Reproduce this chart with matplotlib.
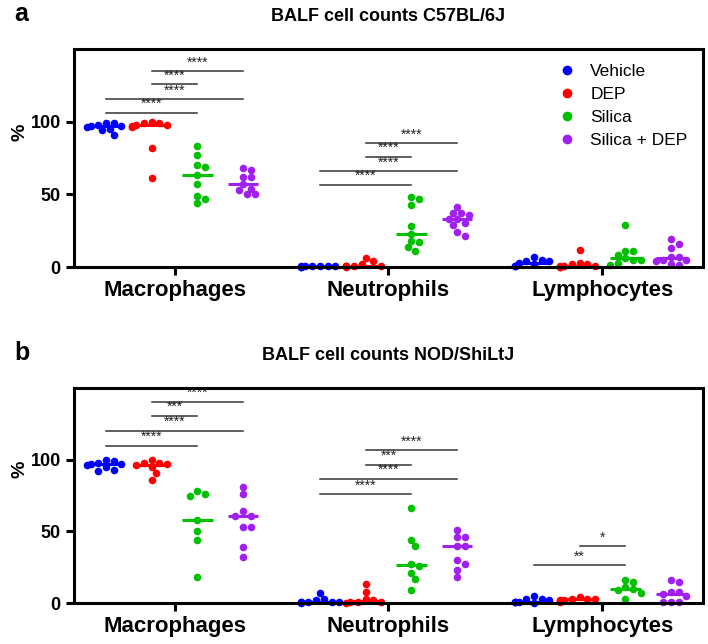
import numpy as np
import matplotlib
matplotlib.use('Agg')
import matplotlib.pyplot as plt
from matplotlib.lines import Line2D

plt.rcParams['font.family'] = ['Liberation Sans', 'DejaVu Sans']

cell_types = ['Macrophages', 'Neutrophils', 'Lymphocytes']
groups = ['Vehicle', 'DEP', 'Silica', 'Silica + DEP']
colors = ['#0000ff', '#ff0000', '#00c000', '#a020f0']

# ---- Panel a: C57BL/6J (values in %) ----
a_macrophages = [
    [99, 99, 98, 97, 97, 96, 95, 94, 91],
    [100, 99, 99, 98, 98, 97, 96, 82, 61],
    [83, 77, 70, 69, 63, 57, 49, 47, 44],
    [68, 67, 62, 62, 57, 54, 53, 50, 50],
]
a_neutrophils = [
    [1.0, 0.5, 0.5, 1.0, 0.3, 0.2, 0.8, 0.5],
    [6, 4, 2, 1, 1, 0.5, 0.5, 0.5, 0.3],
    [48, 47, 43, 28, 23, 18, 17, 14, 11],
    [41, 37, 37, 36, 33, 33, 30, 29, 24, 21],
]
a_lymphocytes = [
    [7, 5, 4, 4, 3, 2, 1, 0.5, 0.5],
    [12, 3, 2, 2, 1, 1, 0.5, 0.3, 0.3],
    [29, 11, 11, 8, 6, 5, 5, 3, 1.5],
    [19, 16, 13, 7, 7, 5, 5, 4, 2, 1.5],
]
# significance: (cell index, group i, group j, bracket height, label)
a_sig = [
    (0, 1, 3, 134.7, '****'), (0, 1, 2, 125.7, '****'),
    (0, 0, 3, 115.5, '****'), (0, 0, 2, 106.0, '****'),
    (1, 1, 3, 85.0, '****'), (1, 1, 2, 75.7, '****'),
    (1, 0, 3, 66.0, '****'), (1, 0, 2, 56.6, '****'),
]

# ---- Panel b: NOD/ShiLtJ ----
b_macrophages = [
    [100, 99, 98, 97, 97, 96, 95, 93, 92],
    [100, 98, 98, 97, 96, 95, 91, 86],
    [78, 76, 75, 58, 50, 44, 18],
    [81, 76, 64, 61, 61, 53, 53, 39, 32],
]
b_neutrophils = [
    [7, 3, 2, 1, 1, 0.5, 0.5, 0.5, 0.3],
    [13, 8, 3, 2, 1, 0.5, 0.5, 0.3],
    [66, 44, 40, 27, 26, 21, 17, 9],
    [51, 46, 46, 40, 40, 30, 27, 23, 18],
]
b_lymphocytes = [
    [5, 3, 3, 2, 1, 1, 0.5, 0.5, 0.3],
    [4, 3, 3, 3, 2, 2, 1.5, 1],
    [16, 15, 11, 10, 9, 7, 3],
    [16, 15, 8, 8, 6, 5, 1, 1, 1],
]
b_sig = [
    (0, 1, 3, 140.5, '****'), (0, 1, 2, 130.5, '***'),
    (0, 0, 3, 120.0, '****'), (0, 0, 2, 109.8, '****'),
    (1, 1, 3, 106.6, '****'), (1, 1, 2, 96.6, '***'),
    (1, 0, 3, 86.6, '****'), (1, 0, 2, 75.9, '****'),
    (2, 1, 2, 39.5, '*'), (2, 0, 2, 26.2, '**'),
]

titles = ['BALF cell counts C57BL/6J', 'BALF cell counts NOD/ShiLtJ']
letters = ['a', 'b']

W, H = 708, 644
fig = plt.figure(figsize=(W / 100, H / 100), dpi=100)

offsets = [-0.32, -0.107, 0.107, 0.32]
marker_px = 7.0


def swarm_offsets(vals, ax):
    # simple beeswarm in pixel space
    p0 = ax.transData.transform((0, 0))
    p1 = ax.transData.transform((1, 1))
    sx = p1[0] - p0[0]
    sy = p1[1] - p0[1]
    order = np.argsort(vals)[::-1]
    placed = []
    res = np.zeros(len(vals))
    d = marker_px
    for idx in order:
        y = vals[idx] * sy
        cands = [0]
        for m in range(1, 6):
            cands += [m * d * 0.55, -m * d * 0.55]
        for c in cands:
            ok = True
            for (px, py) in placed:
                if (px - c) ** 2 + (py - y) ** 2 < (d * 0.95) ** 2:
                    ok = False
                    break
            if ok:
                break
        placed.append((c, y))
        res[idx] = c / sx
    return res


def draw_panel(ax_rect, datasets, sig, title, letter, legend):
    ax = fig.add_axes(ax_rect)
    ax.set_xlim(-0.47, 2.47)
    ax.set_ylim(0, 150)
    for spine in ax.spines.values():
        spine.set_linewidth(2.2)
        spine.set_zorder(5)
    ax.set_yticks([0, 50, 100])
    ax.set_xticks([0, 1, 2])
    ax.set_xticklabels(cell_types, fontsize=16, fontweight='bold')
    ax.tick_params(axis='both', width=2.2, length=6, direction='out')
    ax.tick_params(axis='y', labelsize=13)
    for lab in ax.get_yticklabels():
        lab.set_fontweight('bold')
    ax.set_ylabel('%', fontsize=14, fontweight='bold')
    ax.yaxis.set_label_coords(-0.072, 0.62)
    fig.canvas.draw()
    for ci, ds in enumerate(datasets):
        for gi, vals in enumerate(ds):
            vals = np.asarray(vals, dtype=float)
            xc = ci + offsets[gi]
            xo = swarm_offsets(vals, ax)
            ax.scatter(xc + xo, vals, s=30, color=colors[gi], zorder=3,
                       linewidths=0, clip_on=False)
            med = np.median(vals)
            ax.plot([xc - 0.072, xc + 0.072], [med, med], color=colors[gi],
                    lw=2.2, zorder=4, solid_capstyle='butt')
    for (ci, g1, g2, yv, lab) in sig:
        x1 = ci + offsets[g1]
        x2 = ci + offsets[g2]
        ax.plot([x1, x2], [yv, yv], color='#333333', lw=1.1, zorder=2)
        ax.text((x1 + x2) / 2, yv + 1.2, lab, ha='center', va='bottom',
                fontsize=10, color='#222222')
    x_mid = ax_rect[0] + ax_rect[2] / 2
    top = ax_rect[1] + ax_rect[3]
    fig.text(x_mid, top + 0.05, title, ha='center', va='center',
             fontsize=13, fontweight='bold')
    fig.text(0.02, top + 0.055, letter, ha='left', va='center',
             fontsize=18, fontweight='bold')
    if legend:
        handles = [Line2D([0], [0], marker='o', linestyle='none', color=c,
                          markersize=6) for c in colors]
        ax.legend(handles, groups, loc='upper left', frameon=False,
                  fontsize=12.5, handletextpad=0.55, labelspacing=0.45,
                  handlelength=1.6, borderpad=0, borderaxespad=0,
                  bbox_to_anchor=(0.7615, 0.931))
    return ax


ax_a = draw_panel([74 / W, 1 - 267 / H, (703 - 74) / W, (267 - 49) / H],
                  [a_macrophages, a_neutrophils, a_lymphocytes], a_sig,
                  titles[0], letters[0], True)
ax_b = draw_panel([74 / W, 1 - 603 / H, (703 - 74) / W, (603 - 388) / H],
                  [b_macrophages, b_neutrophils, b_lymphocytes], b_sig,
                  titles[1], letters[1], False)

fig.savefig('out.png', dpi=100)
